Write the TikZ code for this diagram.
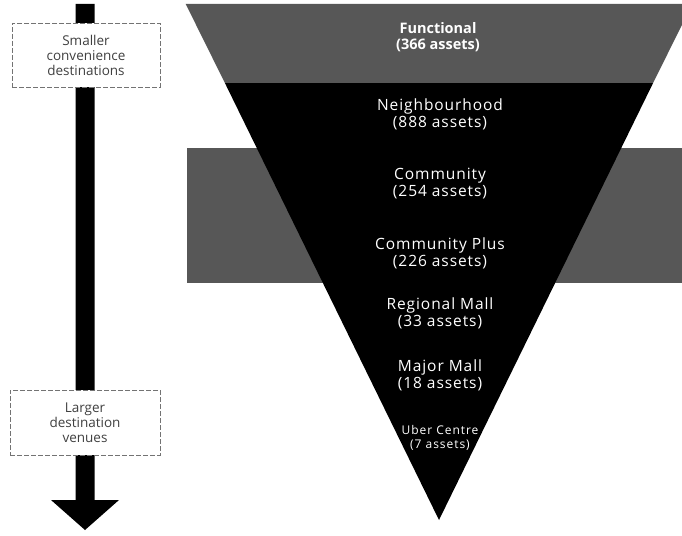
\documentclass[tikz,border=0pt]{standalone}
\usepackage{fontspec}
\setmainfont{Open Sans}
\newfontfamily\widefont[LetterSpace=6]{Open Sans}
\newfontfamily\widerfont[LetterSpace=8]{Open Sans}
\begin{document}
\begin{tikzpicture}[x=1pt,y=-1pt,
  lbl/.style={text=white, align=center, inner sep=0pt, font=\widefont\fontsize{15.5}{17}\selectfont},
  smalllbl/.style={text=white, align=center, inner sep=0pt, font=\widerfont\fontsize{12}{13.5}\selectfont},
  sidebox/.style={draw=black!55, line width=0.6pt, dash pattern=on 5pt off 2pt, fill=white,
    text=black!75, align=center, minimum width=148pt, minimum height=64pt, inner sep=0pt,
    font=\fontsize{13.5}{15}\selectfont},
  band/.style={fill=black!66}]
\useasboundingbox (0,0) rectangle (682,535);
% grey band behind the funnel
\fill[band] (187,148) rectangle (682,283);
% grey top of the funnel
\begin{scope}
  \clip (0,0) rectangle (682,535);
  \fill[band] (185.7,4) -- (692.3,4) -- (653.1,83) -- (224.9,83) -- cycle;
\end{scope}
% black funnel
\coordinate (tl) at (224.9,83);
\coordinate (tr) at (653.1,83);
\coordinate (apex) at (439,520);
\fill[black] (tl) -- (tr) -- (apex) -- cycle;
% labels
\node[lbl, font=\fontsize{14.5}{15.5}\selectfont\bfseries] (functional) at (438,37) {Functional\\(366 assets)};
\node[lbl] (neigh) at (440,114) {Neighbourhood\\(888 assets)};
\node[lbl] (comm) at (440,184) {Community\\(254 assets)};
\node[lbl] (commplus) at (440,253) {Community Plus\\(226 assets)};
\node[lbl] (regional) at (440,313) {Regional Mall\\(33 assets)};
\node[lbl] (major) at (440,375) {Major Mall\\(18 assets)};
\node[smalllbl] (uber) at (440,438) {Uber Centre\\(7 assets)};
% left arrow
\fill[black] (75.5,4) -- (94.5,4) -- (94.5,500) -- (119,500) -- (85,530) -- (51,500) -- (75.5,500) -- cycle;
% side boxes
\node[sidebox] (small) at (86,55) {Smaller\\convenience\\destinations};
\node[sidebox, minimum width=150pt, minimum height=65pt] (large) at (85,422.5) {Larger\\destination\\venues};
\end{tikzpicture}
\end{document}
